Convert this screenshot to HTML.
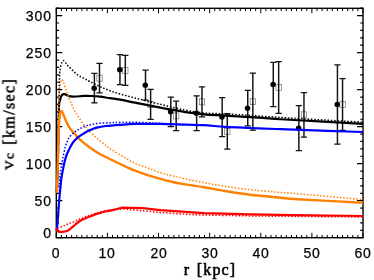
<!DOCTYPE html>
<html><head><meta charset="utf-8"><style>
html,body{margin:0;padding:0;background:#fff;}
body{width:374px;height:280px;position:relative;overflow:hidden;font-family:"Liberation Sans",sans-serif;color:#000;}
.yt,.xt,.xl{will-change:transform;}
.yt{position:absolute;left:0;width:51.9px;text-align:right;font-size:14px;line-height:16px;letter-spacing:0.9px;-webkit-text-stroke:0.25px #000;}
.xt{position:absolute;top:245px;width:40px;text-align:center;font-size:14px;line-height:16px;letter-spacing:0.7px;-webkit-text-stroke:0.25px #000;}
.xl{position:absolute;left:159.8px;width:100px;top:260.5px;text-align:center;font-family:"Liberation Serif",serif;font-weight:normal;-webkit-text-stroke:0.55px #000;font-size:16px;line-height:18px;letter-spacing:1.1px;word-spacing:1.5px;white-space:pre;}
.yl{position:absolute;left:10.2px;top:123.6px;width:0;height:0;}
.yl span.t{position:absolute;white-space:pre;transform:translate(-50%,-50%) rotate(-90deg);transform-origin:center;font-family:"Liberation Serif",serif;font-weight:normal;-webkit-text-stroke:0.55px #000;font-size:16px;line-height:18px;letter-spacing:1.35px;word-spacing:1.5px;display:block;}
.yl .s{font-size:13.5px;position:relative;top:-1.2px;}
</style></head><body>
<svg width="374" height="280" viewBox="0 0 374 280" style="position:absolute;left:0;top:0">
<rect width="374" height="280" fill="#fff"/>
<rect x="56.30" y="8.30" width="306.70" height="229.40" fill="none" stroke="#000" stroke-width="1.4"/>
<path d="M56.30 237.70 H62.30 M363.00 237.70 H357.00 M56.30 230.30 H59.10 M363.00 230.30 H360.20 M56.30 222.89 H59.10 M363.00 222.89 H360.20 M56.30 215.49 H59.10 M363.00 215.49 H360.20 M56.30 208.09 H59.10 M363.00 208.09 H360.20 M56.30 200.69 H62.30 M363.00 200.69 H357.00 M56.30 193.28 H59.10 M363.00 193.28 H360.20 M56.30 185.88 H59.10 M363.00 185.88 H360.20 M56.30 178.48 H59.10 M363.00 178.48 H360.20 M56.30 171.07 H59.10 M363.00 171.07 H360.20 M56.30 163.67 H62.30 M363.00 163.67 H357.00 M56.30 156.27 H59.10 M363.00 156.27 H360.20 M56.30 148.86 H59.10 M363.00 148.86 H360.20 M56.30 141.46 H59.10 M363.00 141.46 H360.20 M56.30 134.06 H59.10 M363.00 134.06 H360.20 M56.30 126.66 H62.30 M363.00 126.66 H357.00 M56.30 119.25 H59.10 M363.00 119.25 H360.20 M56.30 111.85 H59.10 M363.00 111.85 H360.20 M56.30 104.45 H59.10 M363.00 104.45 H360.20 M56.30 97.04 H59.10 M363.00 97.04 H360.20 M56.30 89.64 H62.30 M363.00 89.64 H357.00 M56.30 82.24 H59.10 M363.00 82.24 H360.20 M56.30 74.83 H59.10 M363.00 74.83 H360.20 M56.30 67.43 H59.10 M363.00 67.43 H360.20 M56.30 60.03 H59.10 M363.00 60.03 H360.20 M56.30 52.62 H62.30 M363.00 52.62 H357.00 M56.30 45.22 H59.10 M363.00 45.22 H360.20 M56.30 37.82 H59.10 M363.00 37.82 H360.20 M56.30 30.42 H59.10 M363.00 30.42 H360.20 M56.30 23.01 H59.10 M363.00 23.01 H360.20 M56.30 15.61 H62.30 M363.00 15.61 H357.00 M56.30 8.21 H59.10 M363.00 8.21 H360.20" stroke="#000" stroke-width="1.2" fill="none"/>
<path d="M56.30 237.70 V232.80 M61.41 237.70 V234.90 M66.52 237.70 V234.90 M71.63 237.70 V234.90 M76.75 237.70 V234.90 M81.86 237.70 V234.90 M86.97 237.70 V234.90 M92.08 237.70 V234.90 M97.19 237.70 V234.90 M102.30 237.70 V234.90 M107.42 237.70 V232.80 M112.53 237.70 V234.90 M117.64 237.70 V234.90 M122.75 237.70 V234.90 M127.86 237.70 V234.90 M132.97 237.70 V234.90 M138.09 237.70 V234.90 M143.20 237.70 V234.90 M148.31 237.70 V234.90 M153.42 237.70 V234.90 M158.53 237.70 V232.80 M163.64 237.70 V234.90 M168.76 237.70 V234.90 M173.87 237.70 V234.90 M178.98 237.70 V234.90 M184.09 237.70 V234.90 M189.20 237.70 V234.90 M194.31 237.70 V234.90 M199.43 237.70 V234.90 M204.54 237.70 V234.90 M209.65 237.70 V232.80 M214.76 237.70 V234.90 M219.87 237.70 V234.90 M224.99 237.70 V234.90 M230.10 237.70 V234.90 M235.21 237.70 V234.90 M240.32 237.70 V234.90 M245.43 237.70 V234.90 M250.54 237.70 V234.90 M255.65 237.70 V234.90 M260.77 237.70 V232.80 M265.88 237.70 V234.90 M270.99 237.70 V234.90 M276.10 237.70 V234.90 M281.21 237.70 V234.90 M286.32 237.70 V234.90 M291.44 237.70 V234.90 M296.55 237.70 V234.90 M301.66 237.70 V234.90 M306.77 237.70 V234.90 M311.88 237.70 V232.80 M317.00 237.70 V234.90 M322.11 237.70 V234.90 M327.22 237.70 V234.90 M332.33 237.70 V234.90 M337.44 237.70 V234.90 M342.55 237.70 V234.90 M347.66 237.70 V234.90 M352.78 237.70 V234.90 M357.89 237.70 V234.90 M363.00 237.70 V232.80 M56.30 8.30 V13.20 M61.41 8.30 V11.10 M66.52 8.30 V11.10 M71.63 8.30 V11.10 M76.75 8.30 V11.10 M81.86 8.30 V11.10 M86.97 8.30 V11.10 M92.08 8.30 V11.10 M97.19 8.30 V11.10 M102.30 8.30 V11.10 M107.42 8.30 V13.20 M112.53 8.30 V11.10 M117.64 8.30 V11.10 M122.75 8.30 V11.10 M127.86 8.30 V11.10 M132.97 8.30 V11.10 M138.09 8.30 V11.10 M143.20 8.30 V11.10 M148.31 8.30 V11.10 M153.42 8.30 V11.10 M158.53 8.30 V13.20 M163.64 8.30 V11.10 M168.76 8.30 V11.10 M173.87 8.30 V11.10 M178.98 8.30 V11.10 M184.09 8.30 V11.10 M189.20 8.30 V11.10 M194.31 8.30 V11.10 M199.43 8.30 V11.10 M204.54 8.30 V11.10 M209.65 8.30 V13.20 M214.76 8.30 V11.10 M219.87 8.30 V11.10 M224.99 8.30 V11.10 M230.10 8.30 V11.10 M235.21 8.30 V11.10 M240.32 8.30 V11.10 M245.43 8.30 V11.10 M250.54 8.30 V11.10 M255.65 8.30 V11.10 M260.77 8.30 V13.20 M265.88 8.30 V11.10 M270.99 8.30 V11.10 M276.10 8.30 V11.10 M281.21 8.30 V11.10 M286.32 8.30 V11.10 M291.44 8.30 V11.10 M296.55 8.30 V11.10 M301.66 8.30 V11.10 M306.77 8.30 V11.10 M311.88 8.30 V13.20 M317.00 8.30 V11.10 M322.11 8.30 V11.10 M327.22 8.30 V11.10 M332.33 8.30 V11.10 M337.44 8.30 V11.10 M342.55 8.30 V11.10 M347.66 8.30 V11.10 M352.78 8.30 V11.10 M357.89 8.30 V11.10 M363.00 8.30 V13.20" stroke="#000" stroke-width="1.0" fill="none"/>
<rect x="96.79" y="75.17" width="5.4" height="6.0" fill="none" stroke="#666" stroke-width="0.65"/>
<rect x="122.61" y="67.39" width="5.4" height="6.0" fill="none" stroke="#666" stroke-width="0.65"/>
<rect x="147.91" y="101.45" width="5.4" height="6.0" fill="none" stroke="#666" stroke-width="0.65"/>
<rect x="173.47" y="112.92" width="5.4" height="6.0" fill="none" stroke="#666" stroke-width="0.65"/>
<rect x="199.28" y="98.85" width="5.4" height="6.0" fill="none" stroke="#666" stroke-width="0.65"/>
<rect x="224.59" y="128.47" width="5.4" height="6.0" fill="none" stroke="#666" stroke-width="0.65"/>
<rect x="250.14" y="98.71" width="5.4" height="6.0" fill="none" stroke="#666" stroke-width="0.65"/>
<rect x="275.96" y="84.42" width="5.4" height="6.0" fill="none" stroke="#666" stroke-width="0.65"/>
<rect x="301.26" y="111.81" width="5.4" height="6.0" fill="none" stroke="#666" stroke-width="0.65"/>
<rect x="339.85" y="101.45" width="5.4" height="6.0" fill="none" stroke="#666" stroke-width="0.65"/>
<path d="M94.38 73.35 V102.97 M119.94 54.62 V84.68 M145.50 70.17 V100.23 M170.80 97.04 V126.66 M196.62 95.93 V130.73 M222.17 97.56 V136.50 M247.73 90.38 V125.91 M273.29 62.25 V106.67 M298.85 105.56 V150.71 M337.44 64.77 V144.13 M99.49 63.36 V92.97 M125.31 55.36 V85.42 M150.61 89.49 V119.40 M176.17 101.11 V130.73 M201.98 86.90 V116.81 M227.29 113.70 V149.23 M252.84 73.21 V130.21 M278.66 61.51 V113.33 M303.96 92.60 V137.02 M342.55 78.54 V130.36" stroke="#111" stroke-width="1.45" fill="none"/>
<path d="M91.28 73.35 H97.48 M91.28 102.97 H97.48 M116.84 54.62 H123.04 M116.84 84.68 H123.04 M142.40 70.17 H148.60 M142.40 100.23 H148.60 M167.70 97.04 H173.90 M167.70 126.66 H173.90 M193.52 95.93 H199.72 M193.52 130.73 H199.72 M219.07 97.56 H225.27 M219.07 136.50 H225.27 M244.63 90.38 H250.83 M244.63 125.91 H250.83 M270.19 62.25 H276.39 M270.19 106.67 H276.39 M295.75 105.56 H301.95 M295.75 150.71 H301.95 M334.34 64.77 H340.54 M334.34 144.13 H340.54 M96.39 63.36 H102.59 M96.39 92.97 H102.59 M122.21 55.36 H128.41 M122.21 85.42 H128.41 M147.51 89.49 H153.71 M147.51 119.40 H153.71 M173.07 101.11 H179.27 M173.07 130.73 H179.27 M198.88 86.90 H205.08 M198.88 116.81 H205.08 M224.19 113.70 H230.39 M224.19 149.23 H230.39 M249.74 73.21 H255.94 M249.74 130.21 H255.94 M275.56 61.51 H281.76 M275.56 113.33 H281.76 M300.86 92.60 H307.06 M300.86 137.02 H307.06 M339.45 78.54 H345.65 M339.45 130.36 H345.65" stroke="#111" stroke-width="1.25" fill="none"/>
<circle cx="94.18" cy="88.16" r="2.75" fill="#000"/>
<circle cx="119.74" cy="69.65" r="2.75" fill="#000"/>
<circle cx="145.30" cy="85.20" r="2.75" fill="#000"/>
<circle cx="170.60" cy="111.85" r="2.75" fill="#000"/>
<circle cx="196.42" cy="113.33" r="2.75" fill="#000"/>
<circle cx="221.97" cy="117.03" r="2.75" fill="#000"/>
<circle cx="247.53" cy="108.15" r="2.75" fill="#000"/>
<circle cx="273.09" cy="84.46" r="2.75" fill="#000"/>
<circle cx="298.65" cy="128.14" r="2.75" fill="#000"/>
<circle cx="337.24" cy="104.45" r="2.75" fill="#000"/>
<path d="M56.80 192.00 C56.93 188.33 57.33 179.50 57.60 170.00 C57.87 160.50 58.17 145.67 58.40 135.00 C58.63 124.33 58.73 111.73 59.00 106.00 C59.27 100.27 59.65 102.20 60.00 100.60 C60.35 99.00 60.73 97.37 61.10 96.40 C61.47 95.43 61.75 95.17 62.20 94.80 C62.65 94.43 63.27 94.27 63.80 94.20 C64.33 94.13 64.78 94.18 65.40 94.40 C66.02 94.62 66.70 95.17 67.50 95.50 C68.30 95.83 68.85 96.23 70.20 96.40 C71.55 96.57 73.27 96.58 75.60 96.50 C77.93 96.42 81.47 95.98 84.20 95.90 C86.93 95.82 89.37 95.88 92.00 96.00 C94.63 96.12 97.00 96.23 100.00 96.60 C103.00 96.97 106.67 97.70 110.00 98.20 C113.33 98.70 115.82 98.85 120.00 99.60 C124.18 100.35 128.38 101.35 135.10 102.70 C141.82 104.05 151.92 106.13 160.30 107.70 C168.68 109.27 178.12 110.98 185.40 112.10 C192.68 113.22 197.38 113.82 204.00 114.40 C210.62 114.98 217.38 115.15 225.10 115.60 C232.82 116.05 241.92 116.55 250.30 117.10 C258.68 117.65 268.12 118.42 275.40 118.90 C282.68 119.38 279.40 119.17 294.00 120.00 C308.60 120.83 351.50 123.25 363.00 123.90" stroke="#000" stroke-width="2.2" fill="none" stroke-linejoin="round"/>
<path d="M57.00 192.00 C57.22 185.00 57.97 165.33 58.30 150.00 C58.63 134.67 58.77 112.83 59.00 100.00 C59.23 87.17 59.53 78.03 59.70 73.00 C59.87 67.97 59.85 70.87 60.00 69.80 C60.15 68.73 60.33 67.72 60.60 66.60 C60.87 65.48 61.16 64.12 61.60 63.10 C62.04 62.08 62.57 60.53 63.25 60.50 C63.93 60.47 64.89 62.00 65.70 62.90 C66.51 63.80 66.95 64.65 68.10 65.90 C69.25 67.15 71.00 68.90 72.60 70.40 C74.20 71.90 75.82 73.57 77.70 74.90 C79.58 76.23 81.80 77.25 83.90 78.40 C86.00 79.55 87.62 80.45 90.30 81.80 C92.98 83.15 96.72 85.00 100.00 86.50 C103.28 88.00 106.67 89.55 110.00 90.80 C113.33 92.05 115.82 92.80 120.00 94.00 C124.18 95.20 128.38 96.28 135.10 98.00 C141.82 99.72 151.92 102.28 160.30 104.30 C168.68 106.32 178.12 108.65 185.40 110.10 C192.68 111.55 197.38 112.37 204.00 113.00 C210.62 113.63 217.38 113.50 225.10 113.90 C232.82 114.30 241.92 114.87 250.30 115.40 C258.68 115.93 268.12 116.62 275.40 117.10 C282.68 117.58 279.40 117.45 294.00 118.30 C308.60 119.15 351.50 121.55 363.00 122.20" stroke="#000" stroke-width="1.5" fill="none" stroke-linejoin="round" stroke-dasharray="1.5 1.8"/>
<path d="M56.90 192.90 C57.00 189.92 57.28 182.15 57.50 175.00 C57.72 167.85 57.98 157.83 58.20 150.00 C58.42 142.17 58.57 133.58 58.80 128.00 C59.03 122.42 59.32 119.13 59.60 116.50 C59.88 113.87 60.20 113.12 60.50 112.20 C60.80 111.28 61.03 110.90 61.40 111.00 C61.77 111.10 62.22 111.82 62.70 112.80 C63.18 113.78 63.77 115.57 64.30 116.90 C64.83 118.23 65.27 119.38 65.90 120.80 C66.53 122.22 67.38 124.10 68.10 125.40 C68.82 126.70 69.40 127.52 70.20 128.60 C71.00 129.68 72.10 131.00 72.90 131.90 C73.70 132.80 74.13 133.02 75.00 134.00 C75.87 134.98 76.02 135.85 78.10 137.80 C80.18 139.75 84.38 143.30 87.50 145.70 C90.62 148.10 93.68 150.27 96.80 152.20 C99.92 154.13 101.90 155.15 106.20 157.30 C110.50 159.45 117.78 162.87 122.60 165.10 C127.42 167.33 130.92 169.02 135.10 170.70 C139.28 172.38 143.50 173.83 147.70 175.20 C151.90 176.57 156.12 177.77 160.30 178.90 C164.48 180.03 168.62 181.08 172.80 182.00 C176.98 182.92 180.20 183.53 185.40 184.40 C190.60 185.27 197.38 186.10 204.00 187.20 C210.62 188.30 217.38 189.75 225.10 191.00 C232.82 192.25 241.92 193.67 250.30 194.70 C258.68 195.73 268.12 196.48 275.40 197.20 C282.68 197.92 279.40 198.08 294.00 199.00 C308.60 199.92 351.50 202.08 363.00 202.70" stroke="#ff8000" stroke-width="2.4" fill="none" stroke-linejoin="round"/>
<path d="M57.00 191.00 C57.17 184.17 57.70 163.50 58.00 150.00 C58.30 136.50 58.53 120.00 58.80 110.00 C59.07 100.00 59.30 94.73 59.60 90.00 C59.90 85.27 60.17 83.31 60.60 81.60 C61.03 79.89 61.67 79.52 62.20 79.75 C62.73 79.98 63.35 81.92 63.80 83.00 C64.25 84.08 64.55 85.08 64.90 86.20 C65.25 87.32 65.55 88.63 65.90 89.70 C66.25 90.77 66.63 91.58 67.00 92.60 C67.37 93.62 67.75 94.73 68.10 95.80 C68.45 96.87 68.65 97.92 69.10 99.00 C69.55 100.08 70.30 101.27 70.80 102.30 C71.30 103.33 71.67 104.20 72.10 105.20 C72.53 106.20 72.92 107.22 73.40 108.30 C73.88 109.38 74.42 110.67 75.00 111.70 C75.58 112.73 76.27 113.55 76.90 114.50 C77.53 115.45 78.17 116.43 78.80 117.40 C79.43 118.37 80.08 119.32 80.70 120.30 C81.32 121.28 81.83 122.35 82.50 123.30 C83.17 124.25 83.98 125.12 84.70 126.00 C85.42 126.88 86.08 127.80 86.80 128.60 C87.52 129.40 87.33 129.20 89.00 130.80 C90.67 132.40 93.93 135.72 96.80 138.20 C99.67 140.68 104.00 143.93 106.20 145.70 C108.40 147.47 107.27 147.03 110.00 148.80 C112.73 150.57 118.42 153.87 122.60 156.30 C126.78 158.73 130.92 161.43 135.10 163.40 C139.28 165.37 143.50 166.55 147.70 168.10 C151.90 169.65 156.12 171.40 160.30 172.70 C164.48 174.00 168.62 174.87 172.80 175.90 C176.98 176.93 180.20 177.77 185.40 178.90 C190.60 180.03 197.38 181.45 204.00 182.70 C210.62 183.95 217.38 185.23 225.10 186.40 C232.82 187.57 241.92 188.77 250.30 189.70 C258.68 190.63 268.12 191.37 275.40 192.00 C282.68 192.63 279.40 192.23 294.00 193.50 C308.60 194.77 351.50 198.58 363.00 199.60" stroke="#ff8000" stroke-width="1.5" fill="none" stroke-linejoin="round" stroke-dasharray="1.5 1.8"/>
<path d="M56.90 230.00 C56.95 229.33 57.03 228.00 57.20 226.00 C57.37 224.00 57.68 220.75 57.90 218.00 C58.12 215.25 58.30 212.27 58.50 209.50 C58.70 206.73 58.87 204.17 59.10 201.40 C59.33 198.63 59.65 195.47 59.90 192.90 C60.15 190.33 60.33 188.57 60.60 186.00 C60.87 183.43 61.08 180.33 61.50 177.50 C61.92 174.67 62.57 171.68 63.10 169.00 C63.63 166.32 64.02 163.98 64.70 161.40 C65.38 158.82 65.87 156.58 67.20 153.50 C68.53 150.42 70.88 145.62 72.70 142.90 C74.52 140.18 76.18 138.82 78.10 137.20 C80.02 135.58 82.63 134.20 84.20 133.20 C85.77 132.20 86.20 131.83 87.50 131.20 C88.80 130.57 90.45 130.00 92.00 129.40 C93.55 128.80 94.47 128.17 96.80 127.60 C99.13 127.03 102.13 126.47 106.00 126.00 C109.87 125.53 115.15 125.15 120.00 124.80 C124.85 124.45 128.43 124.05 135.10 123.90 C141.77 123.75 151.62 123.77 160.00 123.90 C168.38 124.03 178.07 124.48 185.40 124.70 C192.73 124.92 197.38 124.83 204.00 125.20 C210.62 125.57 217.38 126.43 225.10 126.90 C232.82 127.37 241.92 127.65 250.30 128.00 C258.68 128.35 268.12 128.72 275.40 129.00 C282.68 129.28 279.40 129.20 294.00 129.70 C308.60 130.20 351.50 131.62 363.00 132.00" stroke="#0000ff" stroke-width="2.2" fill="none" stroke-linejoin="round"/>
<path d="M59.40 191.00 C59.48 188.75 59.70 180.83 59.90 177.50 C60.10 174.17 60.30 173.15 60.60 171.00 C60.90 168.85 61.33 166.70 61.70 164.60 C62.07 162.50 62.18 161.40 62.80 158.40 C63.42 155.40 64.38 149.97 65.40 146.60 C66.42 143.23 67.42 140.60 68.90 138.20 C70.38 135.80 72.73 133.62 74.30 132.20 C75.87 130.78 77.20 130.38 78.30 129.70 C79.40 129.02 79.92 128.63 80.90 128.10 C81.88 127.57 83.12 126.95 84.20 126.50 C85.28 126.05 86.33 125.70 87.40 125.40 C88.47 125.10 89.03 125.02 90.60 124.70 C92.17 124.38 93.57 123.83 96.80 123.50 C100.03 123.17 106.13 122.88 110.00 122.70 C113.87 122.52 115.82 122.47 120.00 122.40 C124.18 122.33 128.43 122.15 135.10 122.30 C141.77 122.45 151.68 122.92 160.00 123.30 C168.32 123.68 180.83 124.38 185.00 124.60" stroke="#0000ff" stroke-width="1.5" fill="none" stroke-linejoin="round" stroke-dasharray="1.5 1.8"/>
<path d="M56.70 228.20 C56.72 228.60 56.52 230.02 56.80 230.60 C57.08 231.18 57.42 231.48 58.40 231.70 C59.38 231.92 61.27 232.02 62.70 231.90 C64.13 231.78 65.75 231.50 67.00 231.00 C68.25 230.50 69.13 229.70 70.20 228.90 C71.27 228.10 72.15 227.27 73.40 226.20 C74.65 225.13 76.27 223.57 77.70 222.50 C79.13 221.43 80.38 220.62 82.00 219.80 C83.62 218.98 85.73 218.27 87.40 217.60 C89.07 216.93 90.43 216.42 92.00 215.80 C93.57 215.18 94.43 214.67 96.80 213.90 C99.17 213.13 104.00 211.75 106.20 211.20 C108.40 210.65 108.37 210.93 110.00 210.60 C111.63 210.27 113.90 209.70 116.00 209.20 C118.10 208.70 121.50 207.87 122.60 207.60L142.70 208.10 L160.30 210.10 L185.40 211.90 L204.00 213.20 L250.00 214.40 L294.00 215.20 L363.00 216.00" stroke="#ff0000" stroke-width="2.2" fill="none" stroke-linejoin="round"/>
<path d="M57.40 228.40 C58.10 228.13 60.27 227.35 61.60 226.80 C62.93 226.25 64.15 225.65 65.40 225.10 C66.65 224.55 67.77 224.03 69.10 223.50 C70.43 222.97 71.97 222.52 73.40 221.90 C74.83 221.28 76.27 220.42 77.70 219.80 C79.13 219.18 80.57 218.77 82.00 218.20 C83.43 217.63 84.87 216.93 86.30 216.40 C87.73 215.87 88.85 215.58 90.60 215.00 C92.35 214.42 94.20 213.63 96.80 212.90 C99.40 212.17 103.00 211.17 106.20 210.60 C109.40 210.03 113.27 209.78 116.00 209.50 C118.73 209.22 119.42 208.80 122.60 208.90 C125.78 209.00 128.82 209.52 135.10 210.10 C141.38 210.68 151.92 211.72 160.30 212.40 C168.68 213.08 178.12 213.77 185.40 214.20 C192.68 214.63 193.23 214.72 204.00 215.00 C214.77 215.28 235.00 215.67 250.00 215.90 C265.00 216.13 275.17 216.22 294.00 216.40 C312.83 216.58 351.50 216.90 363.00 217.00" stroke="#ff0000" stroke-width="1.5" fill="none" stroke-linejoin="round" stroke-dasharray="1.5 1.8"/>
</svg>
<div class="yt" style="top:225.40px">0</div>
<div class="yt" style="top:193.38px">50</div>
<div class="yt" style="top:156.37px">100</div>
<div class="yt" style="top:119.36px">150</div>
<div class="yt" style="top:82.34px">200</div>
<div class="yt" style="top:45.33px">250</div>
<div class="yt" style="top:8.31px">300</div>
<div class="xt" style="left:36.30px">0</div>
<div class="xt" style="left:87.42px">10</div>
<div class="xt" style="left:138.53px">20</div>
<div class="xt" style="left:189.65px">30</div>
<div class="xt" style="left:240.77px">40</div>
<div class="xt" style="left:291.88px">50</div>
<div class="xt" style="left:343.00px">60</div>
<div class="xl">r [kpc]</div>
<div class="yl"><span class="t"><span class="s">Vc</span> [km/sec]</span></div>
</body></html>
